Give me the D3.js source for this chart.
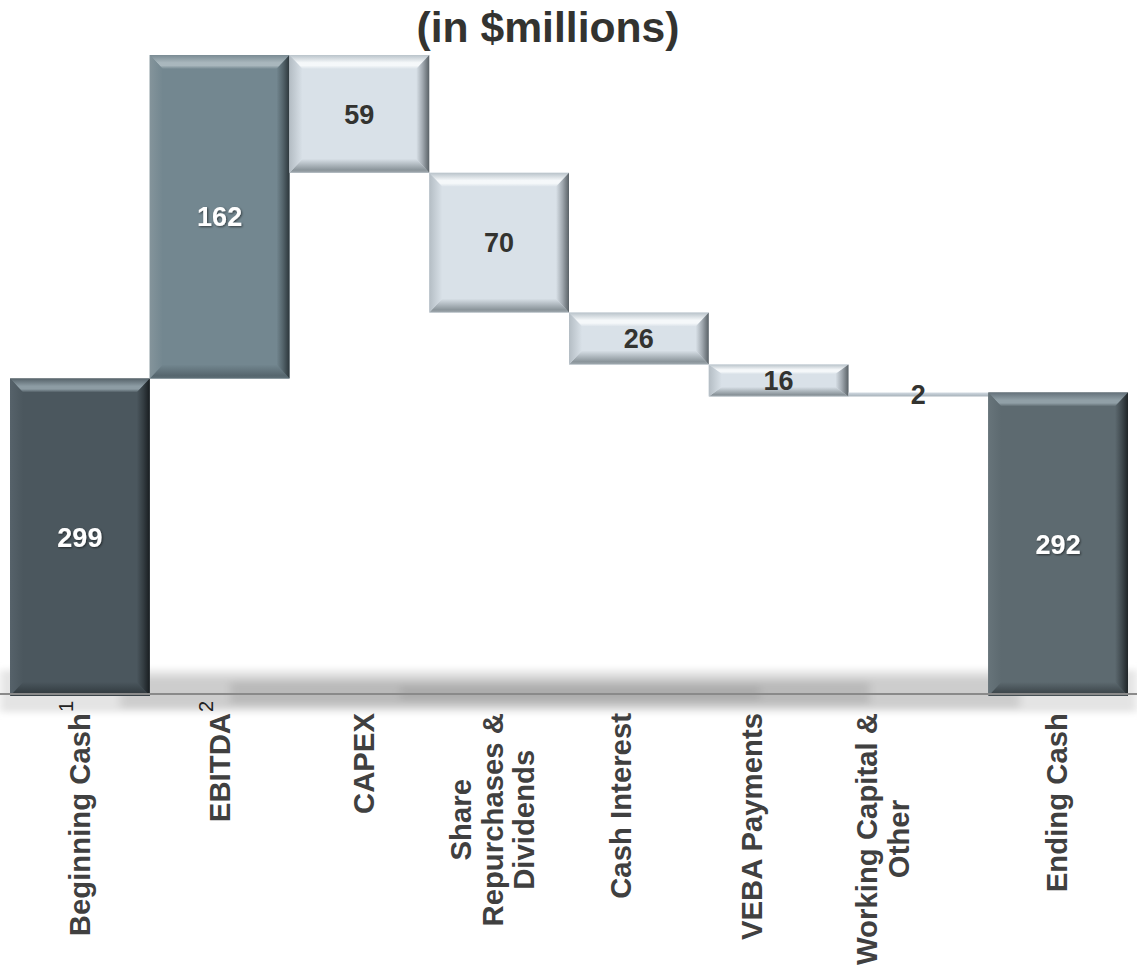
<!DOCTYPE html>
<html>
<head>
<meta charset="utf-8">
<script src="https://cdn.jsdelivr.net/npm/d3@7"></script>
<style>
  html, body { margin: 0; padding: 0; background: #ffffff; }
  svg { display: block; }
</style>
</head>
<body>
<svg id="chart" width="1137" height="966"></svg>
<script>
// ---------------- data ----------------
const categories = ["Beginning Cash", "EBITDA", "CAPEX", "Share Repurchases & Dividends",
                    "Cash Interest", "VEBA Payments", "Working Capital & Other", "Ending Cash"];
const labelLines = [["Beginning Cash"], ["EBITDA"], ["CAPEX"], ["Share", "Repurchases &", "Dividends"],
                    ["Cash Interest"], ["VEBA Payments"], ["Working Capital &", "Other"], ["Ending Cash"]];
const footnotes = ["1", "2", "", "", "", "", "", ""];
const values = [299, 162, -59, -70, -26, -16, 2, 292];
const kinds = ["start", "gain", "change", "change", "change", "change", "change", "end"];
const axisFloor = 140;
const titleText = "(in $millions)";

// ---------------- layout ----------------
const W = 1137, H = 966;
const svg = d3.select("#chart");
const defs = svg.append("defs");
const FONT = "Arial, 'Liberation Sans', Helvetica, sans-serif";

// build waterfall segments
let running = 0;
const bars = values.map((v, i) => {
  let lo, hi;
  if (kinds[i] === "start" || kinds[i] === "end") {
    lo = axisFloor; hi = v; running = v;
  } else {
    const next = running + v;
    lo = Math.min(running, next); hi = Math.max(running, next); running = next;
  }
  return { cat: categories[i], v, lo, hi, kind: kinds[i], i };
});

const x = d3.scaleBand().domain(categories).range([10, 1128]).paddingInner(0).paddingOuter(0);
const y = d3.scaleLinear().domain([axisFloor, d3.max(bars, d => d.hi)]).range([696, 55]);

// colour schemes
const schemes = {
  start:  { base: "#4b575e", topEdge: "#56636a", stripe: "#8d9ca4", rightEdge: "#181d20", leftEdge: "#56626a", bottomEdge: "#333c41", text: "#ffffff" },
  gain:   { base: "#738790", topEdge: "#7a8b93", stripe: "#a9b7bd", rightEdge: "#2c363b", leftEdge: "#84949b", bottomEdge: "#56666e", text: "#ffffff" },
  change: { base: "#d9e1e8", topEdge: "#b9c3ca", stripe: "#f5f8fa", rightEdge: "#596166", leftEdge: "#b4bdc4", bottomEdge: "#8a949a", text: "#333330" },
  end:    { base: "#5d6a70", topEdge: "#64717a", stripe: "#91a0a7", rightEdge: "#1f2528", leftEdge: "#67747a", bottomEdge: "#3d464b", text: "#ffffff" }
};

function lin(id, x1, y1, x2, y2, stops) {
  const g = defs.append("linearGradient").attr("id", id)
    .attr("x1", x1).attr("y1", y1).attr("x2", x2).attr("y2", y2);
  stops.forEach(s => g.append("stop").attr("offset", s[0]).attr("stop-color", s[1]));
}
Object.entries(schemes).forEach(([k, s]) => {
  lin("top-" + k, 0, 0, 0, 1, [[0, s.topEdge], [0.55, s.stripe], [0.75, s.stripe], [1, s.base]]);
  lin("right-" + k, 0, 0, 1, 0, [[0, s.base], [0.5, d3.interpolateRgb(s.base, s.rightEdge)(0.45)], [1, s.rightEdge]]);
  lin("left-" + k, 0, 0, 1, 0, [[0, s.leftEdge], [1, s.base]]);
  lin("bottom-" + k, 0, 0, 0, 1, [[0, s.base], [0.8, s.bottomEdge], [1, d3.interpolateRgb(s.bottomEdge, s.base)(0.3)]]);
});
lin("thin", 0, 0, 0, 1, [[0, "#d3dbe2"], [0.5, "#bcc6ce"], [1, "#a6b1b9"]]);

// filters
const blur = defs.append("filter").attr("id", "blur").attr("x", "-10%").attr("y", "-100%").attr("width", "120%").attr("height", "300%");
blur.append("feGaussianBlur").attr("stdDeviation", "4 3");
const shadow = defs.append("filter").attr("id", "txtShadow").attr("x", "-20%").attr("y", "-20%").attr("width", "140%").attr("height", "140%");
shadow.append("feDropShadow").attr("dx", 1).attr("dy", 1).attr("stdDeviation", 0.8).attr("flood-color", "#000").attr("flood-opacity", 0.55);

// ---------------- axis shadow band ----------------
const base = y(axisFloor) - 2;
const band = svg.append("g").attr("filter", "url(#blur)");
band.append("rect").attr("x", 0).attr("y", base - 24).attr("width", W).attr("height", 42).attr("fill", "#e4e4e4");
band.append("rect").attr("x", 120).attr("y", base - 17).attr("width", 900).attr("height", 31).attr("fill", "#cdcdcd");
band.append("rect").attr("x", 230).attr("y", base - 12).attr("width", 640).attr("height", 22).attr("fill", "#bababa");
band.append("rect").attr("x", 400).attr("y", base - 8).attr("width", 360).attr("height", 14).attr("fill", "#acacac");

// ---------------- bars ----------------
const gBars = svg.append("g");
bars.forEach(b => {
  const x0 = x(b.cat), x1 = x0 + x.bandwidth();
  const y0 = y(b.hi), y1 = y(b.lo);
  const h = y1 - y0;
  const g = gBars.append("g");
  const s = schemes[b.kind];
  if (h < 8) {
    g.append("rect").attr("x", x0).attr("y", y0).attr("width", x1 - x0).attr("height", h).attr("fill", "url(#thin)");
    return;
  }
  const sb = Math.min(13, x.bandwidth() * 0.1);
  const tb = Math.min(14, h * 0.3);
  g.append("rect").attr("x", x0).attr("y", y0).attr("width", x1 - x0).attr("height", h).attr("fill", s.base);
  const poly = (pts, fill) => g.append("polygon").attr("points", pts.map(p => p.join(",")).join(" ")).attr("fill", fill);
  poly([[x0, y0], [x1, y0], [x1 - sb, y0 + tb], [x0 + sb, y0 + tb]], `url(#top-${b.kind})`);
  poly([[x0, y1], [x1, y1], [x1 - sb, y1 - tb], [x0 + sb, y1 - tb]], `url(#bottom-${b.kind})`);
  poly([[x0, y0], [x0 + sb, y0 + tb], [x0 + sb, y1 - tb], [x0, y1]], `url(#left-${b.kind})`);
  poly([[x1, y0], [x1 - sb, y0 + tb], [x1 - sb, y1 - tb], [x1, y1]], `url(#right-${b.kind})`);
});

// axis line
svg.append("line").attr("x1", 0).attr("x2", W).attr("y1", base).attr("y2", base)
  .attr("stroke", "#8a8a8a").attr("stroke-width", 2);

// ---------------- value labels ----------------
svg.append("g").selectAll("text").data(bars).join("text")
  .attr("x", d => x(d.cat) + x.bandwidth() / 2)
  .attr("y", d => (y(d.hi) + y(d.lo)) / 2)
  .attr("dy", "0.36em")
  .attr("text-anchor", "middle")
  .attr("font-family", FONT).attr("font-weight", "bold").attr("font-size", "27px")
  .attr("fill", d => schemes[d.kind].text)
  .attr("filter", d => schemes[d.kind].text === "#ffffff" ? "url(#txtShadow)" : null)
  .text(d => Math.abs(d.v));

// ---------------- category labels (rotated) ----------------
const labelTop = 713, fs = 29.33, lh = 31.5;
const nudge = [0, 0, 4, -7, -18, -27, -36, -2];
categories.forEach((c, i) => {
  const cx = x(c) + x.bandwidth() / 2 + nudge[i];
  const g = svg.append("g").attr("transform", `translate(${cx},${labelTop}) rotate(-90)`);
  const lines = labelLines[i];
  const n = lines.length;
  const texts = lines.map((ln, j) => {
    const t = g.append("text")
      .attr("font-family", FONT).attr("font-weight", "bold").attr("font-size", fs + "px")
      .attr("fill", "#404040")
      .attr("y", (j - (n - 1) / 2) * lh + 0.355 * fs);
    const main = t.append("tspan").text(ln);
    return { t, main, len: main.node().getComputedTextLength() };
  });
  const maxLen = d3.max(texts, d => d.len);
  texts.forEach((d, j) => {
    d.t.attr("x", -(maxLen / 2 + d.len / 2));
    if (footnotes[i] && j === n - 1) {
      d.t.append("tspan").attr("font-weight", "normal").attr("font-size", "20px")
        .attr("fill", "#222").attr("dy", -17).attr("dx", 1).text(footnotes[i]);
    }
  });
});

// ---------------- title ----------------
svg.append("text").attr("x", 548).attr("y", 42).attr("text-anchor", "middle")
  .attr("font-family", FONT).attr("font-weight", "bold").attr("font-size", "42.67px")
  .attr("fill", "#333330").text(titleText);
</script>
</body>
</html>
